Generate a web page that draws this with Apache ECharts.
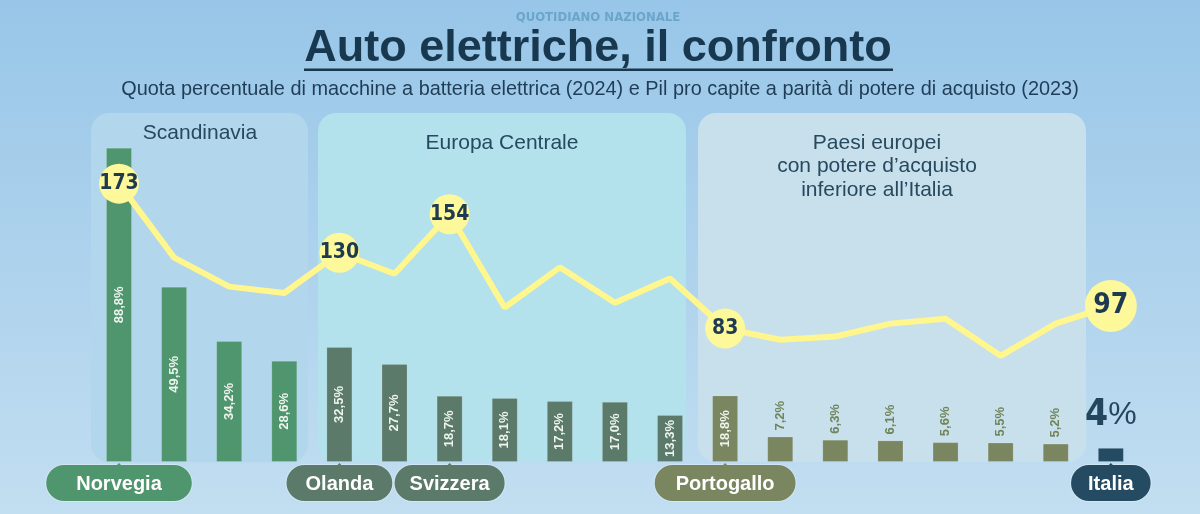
<!DOCTYPE html>
<html><head><meta charset="utf-8">
<script src="https://cdn.jsdelivr.net/npm/echarts@6/dist/echarts.min.js"></script>
<style>html,body{margin:0;padding:0;background:#a8d0ec}#c{width:1200px;height:514px;}</style>
</head><body><div id="c"></div>
<script>
// ---- data ----
const categories = ['Norvegia','','','','Olanda','','Svizzera','','','','','Portogallo','','','','','','','Italia'];
const evShare = [88.8,49.5,34.2,28.6,32.5,27.7,18.7,18.1,17.2,17.0,13.3,18.8,7.2,6.3,6.1,5.6,5.5,5.2,4];
const gdpPps = [173,127,109,105,130,117,154,96,121,99,114,83,76,78,86,89,66,86,97];
const groupOf = [0,0,0,0,1,1,1,1,1,1,1,2,2,2,2,2,2,2,3];
const groupTitles = ['Scandinavia','Europa Centrale','Paesi europei\ncon potere d’acquisto\ninferiore all’Italia'];
const titleText = 'Auto elettriche, il confronto';
const kicker = 'QUOTIDIANO NAZIONALE';
const subtitle = 'Quota percentuale di macchine a batteria elettrica (2024) e Pil pro capite a parità di potere di acquisto (2023)';

// ---- styles ----
const groupColors = ['#4f956d','#5b7a69','#798660','#244b62'];
const narrow = '"Liberation Sans Narrow","DejaVu Sans Condensed","Liberation Sans",sans-serif';
const sans = '"Liberation Sans",Arial,sans-serif';
const lastIdx = evShare.length - 1;

const fmtPct = v => v.toFixed(1).replace('.', ',') + '%';

const barData = evShare.map((v, i) => {
  const item = { value: v, itemStyle: { color: groupColors[groupOf[i]] } };
  if (i === lastIdx) {
    item.label = { show: true, position: 'top', distance: 14, rotate: 0,
      formatter: '{a|' + v + '}{b|%}',
      rich: { a: { fontSize: 37, fontWeight: 'bold', color: '#23465e', fontFamily: narrow },
              b: { fontSize: 32, fontWeight: 'normal', color: '#23465e', fontFamily: sans } } };
  } else if (v >= 10) {
    item.label = { show: true, position: 'inside', rotate: 90, color: '#eef5ef',
      fontSize: 13, fontWeight: 'bold', fontFamily: sans, formatter: fmtPct(v) };
  } else {
    item.label = { show: true, position: 'top', rotate: 90, align: 'left', verticalAlign: 'middle',
      distance: 6, color: '#6f8458', fontSize: 13, fontWeight: 'bold', fontFamily: sans, formatter: fmtPct(v) };
  }
  return item;
});

const lineData = gdpPps.map((v, i) => {
  if (!categories[i]) return { value: v, symbol: 'none' };
  const big = i === lastIdx;
  return { value: v, symbol: 'circle', symbolSize: big ? 52 : 40,
    label: { show: true, position: 'inside', formatter: String(v), color: '#1e3a50',
      fontWeight: 'bold', fontSize: big ? 28 : 21, fontFamily: narrow } };
});

const pillPad = { 0: 30, 4: 19, 6: 15, 11: 21, 18: 17 };
const rich = {};
categories.forEach((c, i) => {
  if (!c) return;
  rich['p' + i] = { backgroundColor: groupColors[groupOf[i]], color: '#ffffff', fontWeight: 'bold',
    fontSize: 20, fontFamily: sans, lineHeight: 22, padding: [9, pillPad[i], 7, pillPad[i]],
    borderRadius: 19, borderColor: 'rgba(255,255,255,0.3)', borderWidth: 1 };
});

const graphics = [
  { type: 'rect', z: 0, shape: { x: 91, y: 113, width: 217, height: 349, r: 18 }, style: { fill: '#b2d6eb' } },
  { type: 'rect', z: 0, shape: { x: 318, y: 113, width: 368, height: 349, r: 18 }, style: { fill: '#b3e1ec' } },
  { type: 'rect', z: 0, shape: { x: 698, y: 113, width: 388, height: 349, r: 18 }, style: { fill: '#c8dfec' } },
  { type: 'text', z: 1, x: 200, y: 133, style: { text: groupTitles[0], fill: '#26495f', font: '21px ' + sans, textAlign: 'center', textVerticalAlign: 'middle' } },
  { type: 'text', z: 1, x: 502, y: 143, style: { text: groupTitles[1], fill: '#26495f', font: '21px ' + sans, textAlign: 'center', textVerticalAlign: 'middle' } },
  { type: 'text', z: 1, x: 877, y: 131, style: { text: groupTitles[2], fill: '#26495f', font: '21px ' + sans, lineHeight: 23.5, textAlign: 'center', textVerticalAlign: 'top' } },
  { type: 'text', z: 1, x: 598, y: 18, style: { text: kicker, fill: '#6aa6ca', font: 'bold 13px ' + narrow, textAlign: 'center', textVerticalAlign: 'middle' } },
  { type: 'text', z: 1, x: 598, y: 49, style: { text: titleText, fill: '#183850', font: 'bold 45px ' + sans, textAlign: 'center', textVerticalAlign: 'middle' } },
  { type: 'rect', z: 1, shape: { x: 304, y: 68.5, width: 589, height: 2.5 }, style: { fill: '#183850' } },
  { type: 'text', z: 1, x: 600, y: 90, style: { text: subtitle, fill: '#1f3d56', font: '19.9px ' + sans, textAlign: 'center', textVerticalAlign: 'middle' } }
];

const chart = echarts.init(document.getElementById('c'), null, { renderer: 'canvas' });
chart.setOption({
  animation: false,
  backgroundColor: { type: 'linear', x: 0, y: 0, x2: 0, y2: 1,
    colorStops: [{ offset: 0, color: '#98c6e8' }, { offset: 1, color: '#c2def1' }] },
  grid: { left: 91.45, right: 61.6, top: 108, bottom: 52 },
  xAxis: { type: 'category', data: categories, boundaryGap: true,
    axisLine: { show: false }, axisTick: { show: false }, splitLine: { show: false },
    axisLabel: { interval: 0, margin: 10, rich: rich,
      formatter: (val, idx) => val ? '{p' + idx + '|' + val + '}' : '' } },
  yAxis: [
    { type: 'value', min: 0, max: 100, show: false, splitLine: { show: false } },
    { type: 'value', min: 0, max: 220, show: false, splitLine: { show: false } }
  ],
  graphic: graphics,
  series: [
    { type: 'bar', data: barData, barWidth: 26, z: 3, yAxisIndex: 0,
      itemStyle: { borderColor: 'rgba(255,255,255,0.15)', borderWidth: 1 } },
    { type: 'line', data: lineData, yAxisIndex: 1, z: 5, symbol: 'circle', showAllSymbol: true,
      lineStyle: { color: '#fff68e', width: 6 }, itemStyle: { color: '#fdf89a' } }
  ]
});

// small pointers from pills to bars
const pointers = [];
categories.forEach((c, i) => {
  if (!c) return;
  const p = chart.convertToPixel({ xAxisIndex: 0, yAxisIndex: 0 }, [i, 0]);
  pointers.push({ type: 'polygon', z: 6, shape: { points: [[p[0] - 5, p[1] + 6], [p[0] + 5, p[1] + 6], [p[0], p[1] + 1]] },
    style: { fill: groupColors[groupOf[i]] } });
});
chart.setOption({ graphic: graphics.concat(pointers) });
</script>
</body></html>
